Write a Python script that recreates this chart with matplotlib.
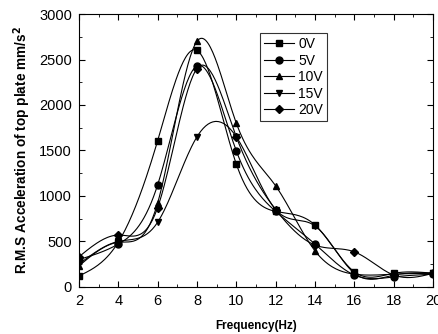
import numpy as np
import matplotlib
matplotlib.use('Agg')
import matplotlib.pyplot as plt
from matplotlib.ticker import MultipleLocator

plt.rcParams['font.family'] = ['Liberation Sans', 'DejaVu Sans']

# Dati
freq = [2, 4, 6, 8, 10, 12, 14, 16, 18, 20]
v0 = [120, 490, 1605, 2600, 1350, 830, 680, 165, 150, 150]
v5 = [300, 470, 1120, 2430, 1495, 830, 470, 130, 110, 140]
v10 = [230, 490, 920, 2700, 1800, 1110, 395, 140, 140, 150]
v15 = [250, 500, 710, 1650, 1650, 850, 670, 150, 130, 150]
v20 = [330, 570, 870, 2400, 1650, 850, 460, 385, 130, 150]

serie = [('0V', v0, 's'), ('5V', v5, 'o'), ('10V', v10, '^'),
         ('15V', v15, 'v'), ('20V', v20, 'D')]


def spline(x, y, n=300):
    # spline cubica naturale
    x = np.asarray(x, float)
    y = np.asarray(y, float)
    k = len(x)
    h = np.diff(x)
    A = np.zeros((k, k))
    b = np.zeros(k)
    A[0, 0] = A[-1, -1] = 1
    for i in range(1, k - 1):
        A[i, i - 1] = h[i - 1]
        A[i, i] = 2 * (h[i - 1] + h[i])
        A[i, i + 1] = h[i]
        b[i] = 6 * ((y[i + 1] - y[i]) / h[i] - (y[i] - y[i - 1]) / h[i - 1])
    M = np.linalg.solve(A, b)
    xs = np.linspace(x[0], x[-1], n)
    idx = np.clip(np.searchsorted(x, xs) - 1, 0, k - 2)
    x0, x1 = x[idx], x[idx + 1]
    hh = x1 - x0
    t0, t1 = x1 - xs, xs - x0
    ys = (M[idx] * t0**3 + M[idx + 1] * t1**3) / (6 * hh) \
        + (y[idx] / hh - M[idx] * hh / 6) * t0 \
        + (y[idx + 1] / hh - M[idx + 1] * hh / 6) * t1
    return xs, ys


fig = plt.figure(figsize=(4.38, 3.34), dpi=100)
ax = fig.add_axes([0.180, 0.141, 0.809, 0.817])

for nome, vals, m in serie:
    ms = 5 if m != 'D' else 4.5
    xs, ys = spline(freq, vals)
    ax.plot(xs, ys, color='black', linewidth=0.8)
    ax.plot(freq, vals, linestyle='none', marker=m, color='black', markersize=ms)
    ax.plot([], [], color='black', linewidth=0.8, marker=m, markersize=ms, label=nome)

ax.set_xlim(2, 20)
ax.set_ylim(0, 3000)
ax.xaxis.set_major_locator(MultipleLocator(2))
ax.xaxis.set_minor_locator(MultipleLocator(1))
ax.yaxis.set_major_locator(MultipleLocator(500))
ax.yaxis.set_minor_locator(MultipleLocator(250))
ax.tick_params(which='both', direction='in', top=True, right=True, labelsize=10.5)
ax.tick_params(which='major', length=4, pad=5)
ax.tick_params(which='minor', length=2)

ax.set_xlabel('Frequency(Hz)', fontsize=8.5, fontweight='bold', labelpad=9)
ax.set_ylabel('R.M.S Acceleration of top plate mm/s$^\\mathbf{2}$', fontsize=9.8,
              fontweight='bold', labelpad=4)

leg = ax.legend(loc='upper left', bbox_to_anchor=(0.51, 0.93), fontsize=10,
                frameon=True, fancybox=False, edgecolor='black',
                handlelength=2.2, handletextpad=0.3, labelspacing=0.18,
                borderpad=0.3, borderaxespad=0)
leg.get_frame().set_linewidth(0.8)

fig.savefig('out.png', dpi=100)
